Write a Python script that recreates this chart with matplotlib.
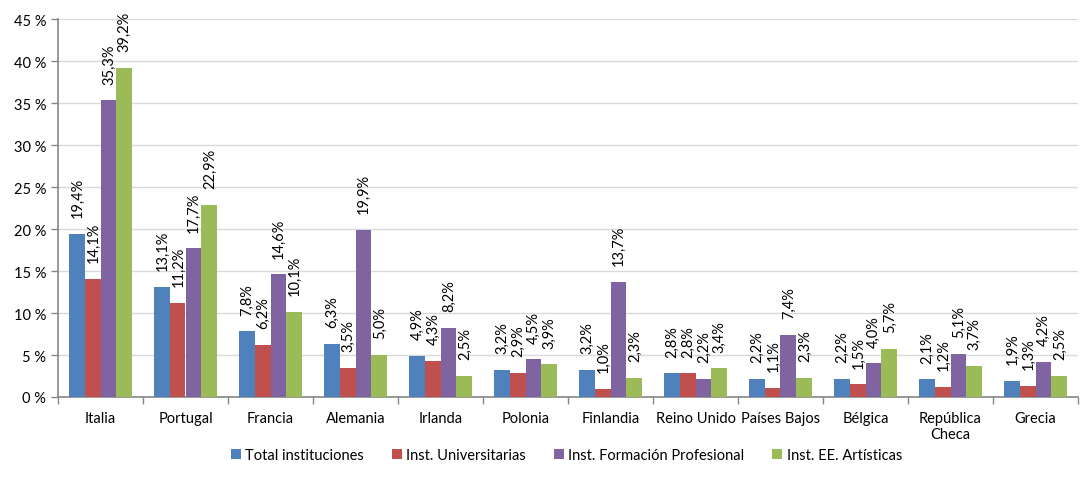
import matplotlib
matplotlib.use("Agg")
import matplotlib.pyplot as plt
import numpy as np

categories = ["Italia", "Portugal", "Francia", "Alemania", "Irlanda", "Polonia",
              "Finlandia", "Reino Unido", "Países Bajos", "Bélgica",
              "República\nCheca", "Grecia"]
series_names = ["Total instituciones", "Inst. Universitarias",
                "Inst. Formación Profesional", "Inst. EE. Artísticas"]
total = [19.4, 13.1, 7.8, 6.3, 4.9, 3.2, 3.2, 2.8, 2.2, 2.2, 2.1, 1.9]
univ = [14.1, 11.2, 6.2, 3.5, 4.3, 2.9, 1.0, 2.8, 1.1, 1.5, 1.2, 1.3]
fp = [35.3, 17.7, 14.6, 19.9, 8.2, 4.5, 13.7, 2.2, 7.4, 4.0, 5.1, 4.2]
art = [39.2, 22.9, 10.1, 5.0, 2.5, 3.9, 2.3, 3.4, 2.3, 5.7, 3.7, 2.5]
yticks = [0, 5, 10, 15, 20, 25, 30, 35, 40, 45]

colors = ["#4F81BD", "#C0504D", "#8064A2", "#9BBB59"]

plt.rcParams['font.family'] = ['Lato', 'DejaVu Sans']
fig = plt.figure(figsize=(10.89, 4.89), dpi=100)
ax = fig.add_axes([58/1089, 1-398/489, (1078-58)/1089, 378/489])

x = np.arange(len(categories))
w = 0.185
data = [total, univ, fp, art]
for i, (vals, c, name) in enumerate(zip(data, colors, series_names)):
    pos = x + (i - 1.5) * w
    bars = ax.bar(pos, vals, w, color=c, label=name, zorder=3)
    for b, v in zip(bars, vals):
        ax.annotate(f"{v:.1f}%".replace(".", ","),
                    (b.get_x() + b.get_width()/2, v),
                    xytext=(0.5, 12), textcoords="offset points",
                    rotation=90, ha="center", va="bottom", fontsize=10.5,
                    color="black")

ax.set_xlim(-0.5, len(categories) - 0.5)
ax.set_ylim(0, 45)
ax.set_yticks(yticks)
ax.set_yticklabels([f"{t} %" for t in yticks], fontsize=10.5)
ax.yaxis.grid(True, color="#D9D9D9", linewidth=1, zorder=0)
ax.set_axisbelow(True)

ax.set_xticks(x)
ax.set_xticklabels(categories, fontsize=10.5)
ax.tick_params(axis="x", length=0, pad=10)
ax.set_xticks(np.arange(-0.5, len(categories)), minor=True)
ax.tick_params(axis="x", which="minor", length=5, color="#868686", width=1)
ax.tick_params(axis="y", length=5, color="#868686", width=1)
for s in ["top", "right"]:
    ax.spines[s].set_visible(False)
for s in ["left", "bottom"]:
    ax.spines[s].set_color("#868686")
    ax.spines[s].set_linewidth(1.2)

fig.legend(loc="center", bbox_to_anchor=(0.52, 1-456/489), ncol=4, frameon=False,
           fontsize=10.5, handlelength=0.7, handleheight=0.7, handletextpad=0.3,
           columnspacing=1.9)

fig.savefig("out.png", dpi=100)
